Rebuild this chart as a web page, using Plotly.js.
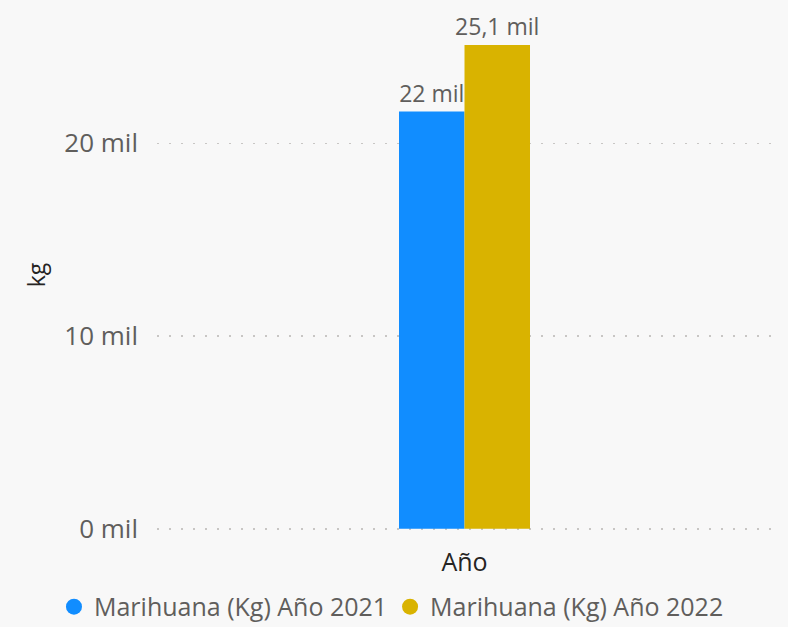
<!DOCTYPE html>
<html>
<head>
<meta charset="utf-8">
<script src="https://cdn.plot.ly/plotly-3.0.1.min.js"></script>
<style>
html,body{margin:0;padding:0;background:#f8f8f8;}
#chart{width:788px;height:627px;}
</style>
</head>
<body>
<div id="chart"></div>
<script>
const categories = ["Año"];
const seriesNames = ["Marihuana (Kg) Año 2021", "Marihuana (Kg) Año 2022"];
const values2021 = [21650];
const values2022 = [25100];
const labels2021 = ["22 mil"];
const labels2022 = ["25,1 mil"];
const tickValues = [0, 10000, 20000];
const tickLabels = ["0 mil", "10 mil", "20 mil"];
const colors = ["#118DFF", "#D9B300"];

const font = "Open Sans, Noto Sans, sans-serif";
const barCommon = {
  type: "bar",
  textposition: "outside",
  constraintext: "none",
  cliponaxis: false,
  textfont: {family: font, size: 23, color: "#605E5C"},
  hoverinfo: "skip",
  showlegend: false
};
const data = [
  Object.assign({}, barCommon, {x: [""], y: values2021, text: labels2021, marker: {color: colors[0]}, name: seriesNames[0]}),
  Object.assign({}, barCommon, {x: [""], y: values2022, text: labels2022, marker: {color: colors[1]}, name: seriesNames[1]}),
  {type: "scatter", mode: "markers", x: [null], y: [null], name: seriesNames[0], marker: {symbol: "circle", size: 20, color: colors[0]}, showlegend: true, legend: "legend"},
  {type: "scatter", mode: "markers", x: [null], y: [null], name: seriesNames[1], marker: {symbol: "circle", size: 20, color: colors[1]}, showlegend: true, legend: "legend2"}
];

const legendCommon = {
  orientation: "h",
  xref: "container", yref: "container",
  xanchor: "left",
  y: 0.032, yanchor: "middle",
  font: {family: font, size: 25, color: "#605E5C"},
  itemwidth: 30,
  bgcolor: "rgba(0,0,0,0)"
};

const layout = {
  width: 788, height: 627,
  paper_bgcolor: "#f8f8f8",
  plot_bgcolor: "#f8f8f8",
  margin: {l: 157, r: 16, t: 20, b: 97},
  barmode: "group",
  bargap: 0.787,
  bargroupgap: 0,
  font: {family: font, color: "#605E5C"},
  xaxis: {
    type: "category",
    showticklabels: false,
    showgrid: false,
    zeroline: false,
    showline: false,
    ticks: "",
    title: {text: categories[0], font: {family: font, size: 25, color: "#252423"}, standoff: 23}
  },
  yaxis: {
    range: [-60, 26400],
    tickvals: tickValues,
    ticktext: tickLabels,
    tickfont: {family: font, size: 26, color: "#605E5C"},
    ticks: "",
    ticklabelstandoff: 18,
    showgrid: true,
    gridcolor: "#C8C6C4",
    griddash: "2px,10px",
    gridwidth: 1.5,
    zeroline: false,
    showline: false,
    title: {text: "kg", font: {family: font, size: 23, color: "#252423"}, standoff: 12}
  },
  legend: Object.assign({}, legendCommon, {x: 0.0685}),
  legend2: Object.assign({}, legendCommon, {x: 0.495}),
  showlegend: true
};

Plotly.newPlot("chart", data, layout, {displayModeBar: false, staticPlot: true});
</script>
</body>
</html>
